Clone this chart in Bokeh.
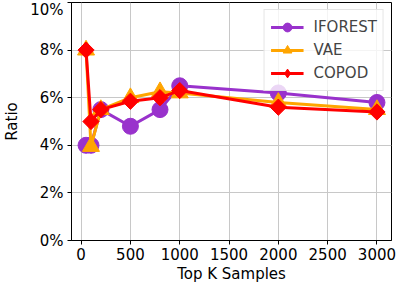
import math
from bokeh.plotting import figure
from bokeh.models import Range1d, FixedTicker, PrintfTickFormatter, Legend, LegendItem
from bokeh.embed import file_html
from bokeh.resources import INLINE

top_k = [50, 100, 200, 500, 800, 1000, 2000, 3000]
iforest = [4.0, 4.0, 5.5, 4.8, 5.5, 6.5, 6.2, 5.8]
vae = [8.0, 3.95, 5.5, 6.0, 6.25, 6.2, 5.8, 5.5]
copod = [8.0, 5.0, 5.5, 5.85, 6.0, 6.3, 5.6, 5.4]
x_ticks = [0, 500, 1000, 1500, 2000, 2500, 3000]
y_ticks = [0, 2, 4, 6, 8, 10]

FONT = "DejaVu Sans"
FS = "15px"

p = figure(output_backend="svg", toolbar_location=None,
           frame_width=320, frame_height=238,
           min_border_left=53, min_border_right=10, min_border_top=2, min_border_bottom=39,
           x_range=Range1d(-97.5, 3147.5), y_range=Range1d(0, 10))
p.background_fill_color = "white"
p.border_fill_color = "white"
p.outline_line_color = "black"
p.outline_line_width = 1

for ax in (p.xaxis[0], p.yaxis[0]):
    ax.major_label_text_font = FONT
    ax.major_label_text_font_size = FS
    ax.axis_label_text_font = FONT
    ax.axis_label_text_font_size = FS
    ax.axis_label_text_font_style = "normal"
    ax.major_tick_in = 0
    ax.major_tick_out = 4
    ax.minor_tick_line_color = None
    ax.axis_line_color = "black"
    ax.major_tick_line_color = "black"
    ax.major_label_text_color = "black"
    ax.axis_label_text_color = "black"

p.xaxis.ticker = FixedTicker(ticks=x_ticks)
p.yaxis.ticker = FixedTicker(ticks=y_ticks)
p.yaxis.formatter = PrintfTickFormatter(format="%d%%")
p.xaxis.axis_label = "Top K Samples"
p.yaxis.axis_label = "Ratio"
p.xaxis.major_label_standoff = 3
p.xaxis.axis_label_standoff = 2
p.yaxis.major_label_standoff = 4
p.yaxis.axis_label_standoff = 6

p.grid.grid_line_color = "#c8c8c8"
p.grid.grid_line_width = 1

# (name, values, colour, plot marker, size, angle, legend marker, legend size)
series = [
    ("IFOREST", iforest, "#9932CC", "circle", 16, 0.0, "circle", 16),
    ("VAE", vae, "#FFA500", "triangle", 17, 0.0, "triangle", 17),
    ("COPOD", copod, "#FF0000", "square", 11.5, math.pi / 4, "diamond", 20),
]
items = []
for name, ys, color, marker, size, angle, lmarker, lsize in series:
    l = p.line(top_k, ys, line_color=color, line_width=3)
    p.scatter(x=top_k, y=ys, marker=marker, size=size,
              angle=[angle] * len(top_k), angle_units="rad",
              fill_color=color, line_color=color)
    lg = p.scatter(x=[float("nan")], y=[float("nan")], marker=lmarker, size=lsize,
                   fill_color=color, line_color=color)
    items.append(LegendItem(label=name, renderers=[l, lg]))

legend = Legend(items=items, location="top_right")
legend.label_text_font = FONT
legend.label_text_font_size = FS
legend.glyph_width = 33
legend.glyph_height = 22
legend.spacing = 1
legend.padding = 6
legend.margin = 7
legend.label_standoff = 10
legend.border_line_color = "#cccccc"
legend.border_line_width = 1
legend.background_fill_alpha = 0.8
p.add_layout(legend)

open("out.html", "w").write(file_html(p, INLINE))
